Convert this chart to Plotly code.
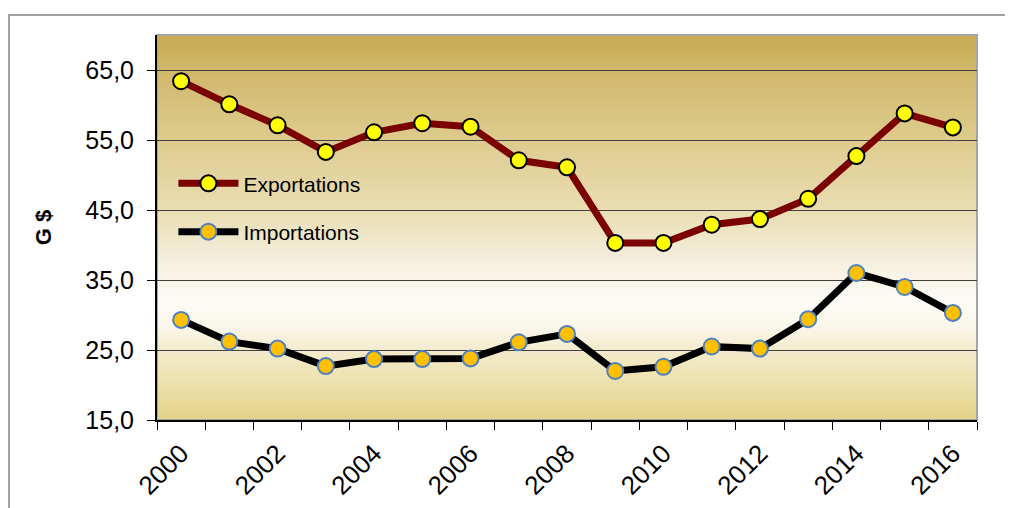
import plotly.graph_objects as go

years = list(range(2000, 2017))
exportations = [63.4, 60.1, 57.1, 53.3, 56.1, 57.4, 56.9, 52.1, 51.1, 40.3, 40.3,
                42.9, 43.7, 46.6, 52.7, 58.8, 56.8]
importations = [29.3, 26.2, 25.2, 22.7, 23.7, 23.7, 23.8, 26.1, 27.3, 22.0, 22.6,
                25.5, 25.2, 29.4, 36.0, 34.0, 30.3]
x_labels = [str(y) for y in range(2000, 2017, 2)]
y_ticks = [15, 25, 35, 45, 55, 65]

Y_MIN, Y_MAX = 15, 70

fig = go.Figure()

fig.add_trace(go.Scatter(
    x=years, y=exportations, name="Exportations", mode="lines+markers",
    line=dict(color="#7B0000", width=7),
    marker=dict(size=16, color="#FFFF00", line=dict(color="#000000", width=2)),
    legendgroup="a", cliponaxis=False,
))
fig.add_trace(go.Scatter(
    x=years, y=importations, name="Importations", mode="lines+markers",
    line=dict(color="#000000", width=7),
    marker=dict(size=16, color="#FFC000", line=dict(color="#4F81BD", width=2)),
    legendgroup="b", cliponaxis=False,
))

# background gradient (gold -> white -> gold)
stops = [(70, (198, 170, 82)), (65, (208, 184, 106)), (55, (222, 203, 142)),
         (45, (233, 221, 178)), (38, (244, 238, 220)), (32, (253, 251, 246)),
         (28, (250, 246, 232)), (25, (243, 235, 205)), (20, (236, 224, 170)),
         (15, (228, 210, 135))]

def col_at(v):
    for i in range(len(stops) - 1):
        v0, c0 = stops[i]
        v1, c1 = stops[i + 1]
        if v1 <= v <= v0:
            t = (v0 - v) / (v0 - v1)
            return tuple(round(c0[k] + (c1[k] - c0[k]) * t) for k in range(3))
    return stops[-1][1]

n = 110
shapes = []
step = (Y_MAX - Y_MIN) / n
for i in range(n):
    a = Y_MIN + i * step
    b = min(a + 2 * step, Y_MAX)
    c = col_at(a + step / 2)
    shapes.append(dict(type="rect", xref="x domain", yref="y", x0=0, x1=1, y0=a, y1=b,
                       fillcolor="rgb(%d,%d,%d)" % c, line=dict(width=0), layer="below"))

# plot area frame (top/right gray)
shapes.append(dict(type="rect", xref="paper", yref="paper", x0=0, x1=1, y0=0, y1=1,
                   line=dict(color="#A6A6A6", width=2), layer="below"))
# outer chart border
shapes.append(dict(type="rect", xref="paper", yref="paper", x0=-0.1805, x1=1.2,
                   y0=-0.5, y1=1.052, line=dict(color="#A0A0A0", width=2), layer="below"))

fig.update_layout(
    width=1005, height=500,
    margin=dict(l=149, r=36, t=27, b=88),
    paper_bgcolor="white", plot_bgcolor="white",
    separators=", ",
    font=dict(family="Arial, Liberation Sans, sans-serif", color="black"),
    shapes=shapes,
    showlegend=True,
    legend=dict(x=0.020, y=0.667, xanchor="left", yanchor="top",
                bgcolor="rgba(0,0,0,0)", font=dict(size=21),
                itemwidth=60, tracegroupgap=18, traceorder="grouped"),
)

fig.update_xaxes(
    range=[1999.5, 2016.5], automargin=False,
    tickmode="array", tickvals=[int(s) for s in x_labels], ticktext=x_labels,
    tickangle=-45, tickfont=dict(size=26), ticks="", ticklabelstandoff=6,
    minor=dict(tickmode="linear", tick0=1999.5, dtick=1, ticks="outside",
               ticklen=8, tickcolor="black", tickwidth=1, showgrid=False),
    showgrid=False, showline=True, linecolor="black", linewidth=2,
    zeroline=False,
)
fig.update_yaxes(
    range=[Y_MIN, Y_MAX], automargin=False,
    tickmode="array", tickvals=y_ticks, tickformat=".1f",
    tickfont=dict(size=25), ticks="outside", ticklen=8, tickcolor="black",
    ticklabelstandoff=8,
    showgrid=True, gridcolor="#404040", gridwidth=1,
    showline=True, linecolor="black", linewidth=2, zeroline=False,
    title=dict(text="<b>G $</b>", font=dict(size=22), standoff=28),
)

fig.write_html("out.html")
